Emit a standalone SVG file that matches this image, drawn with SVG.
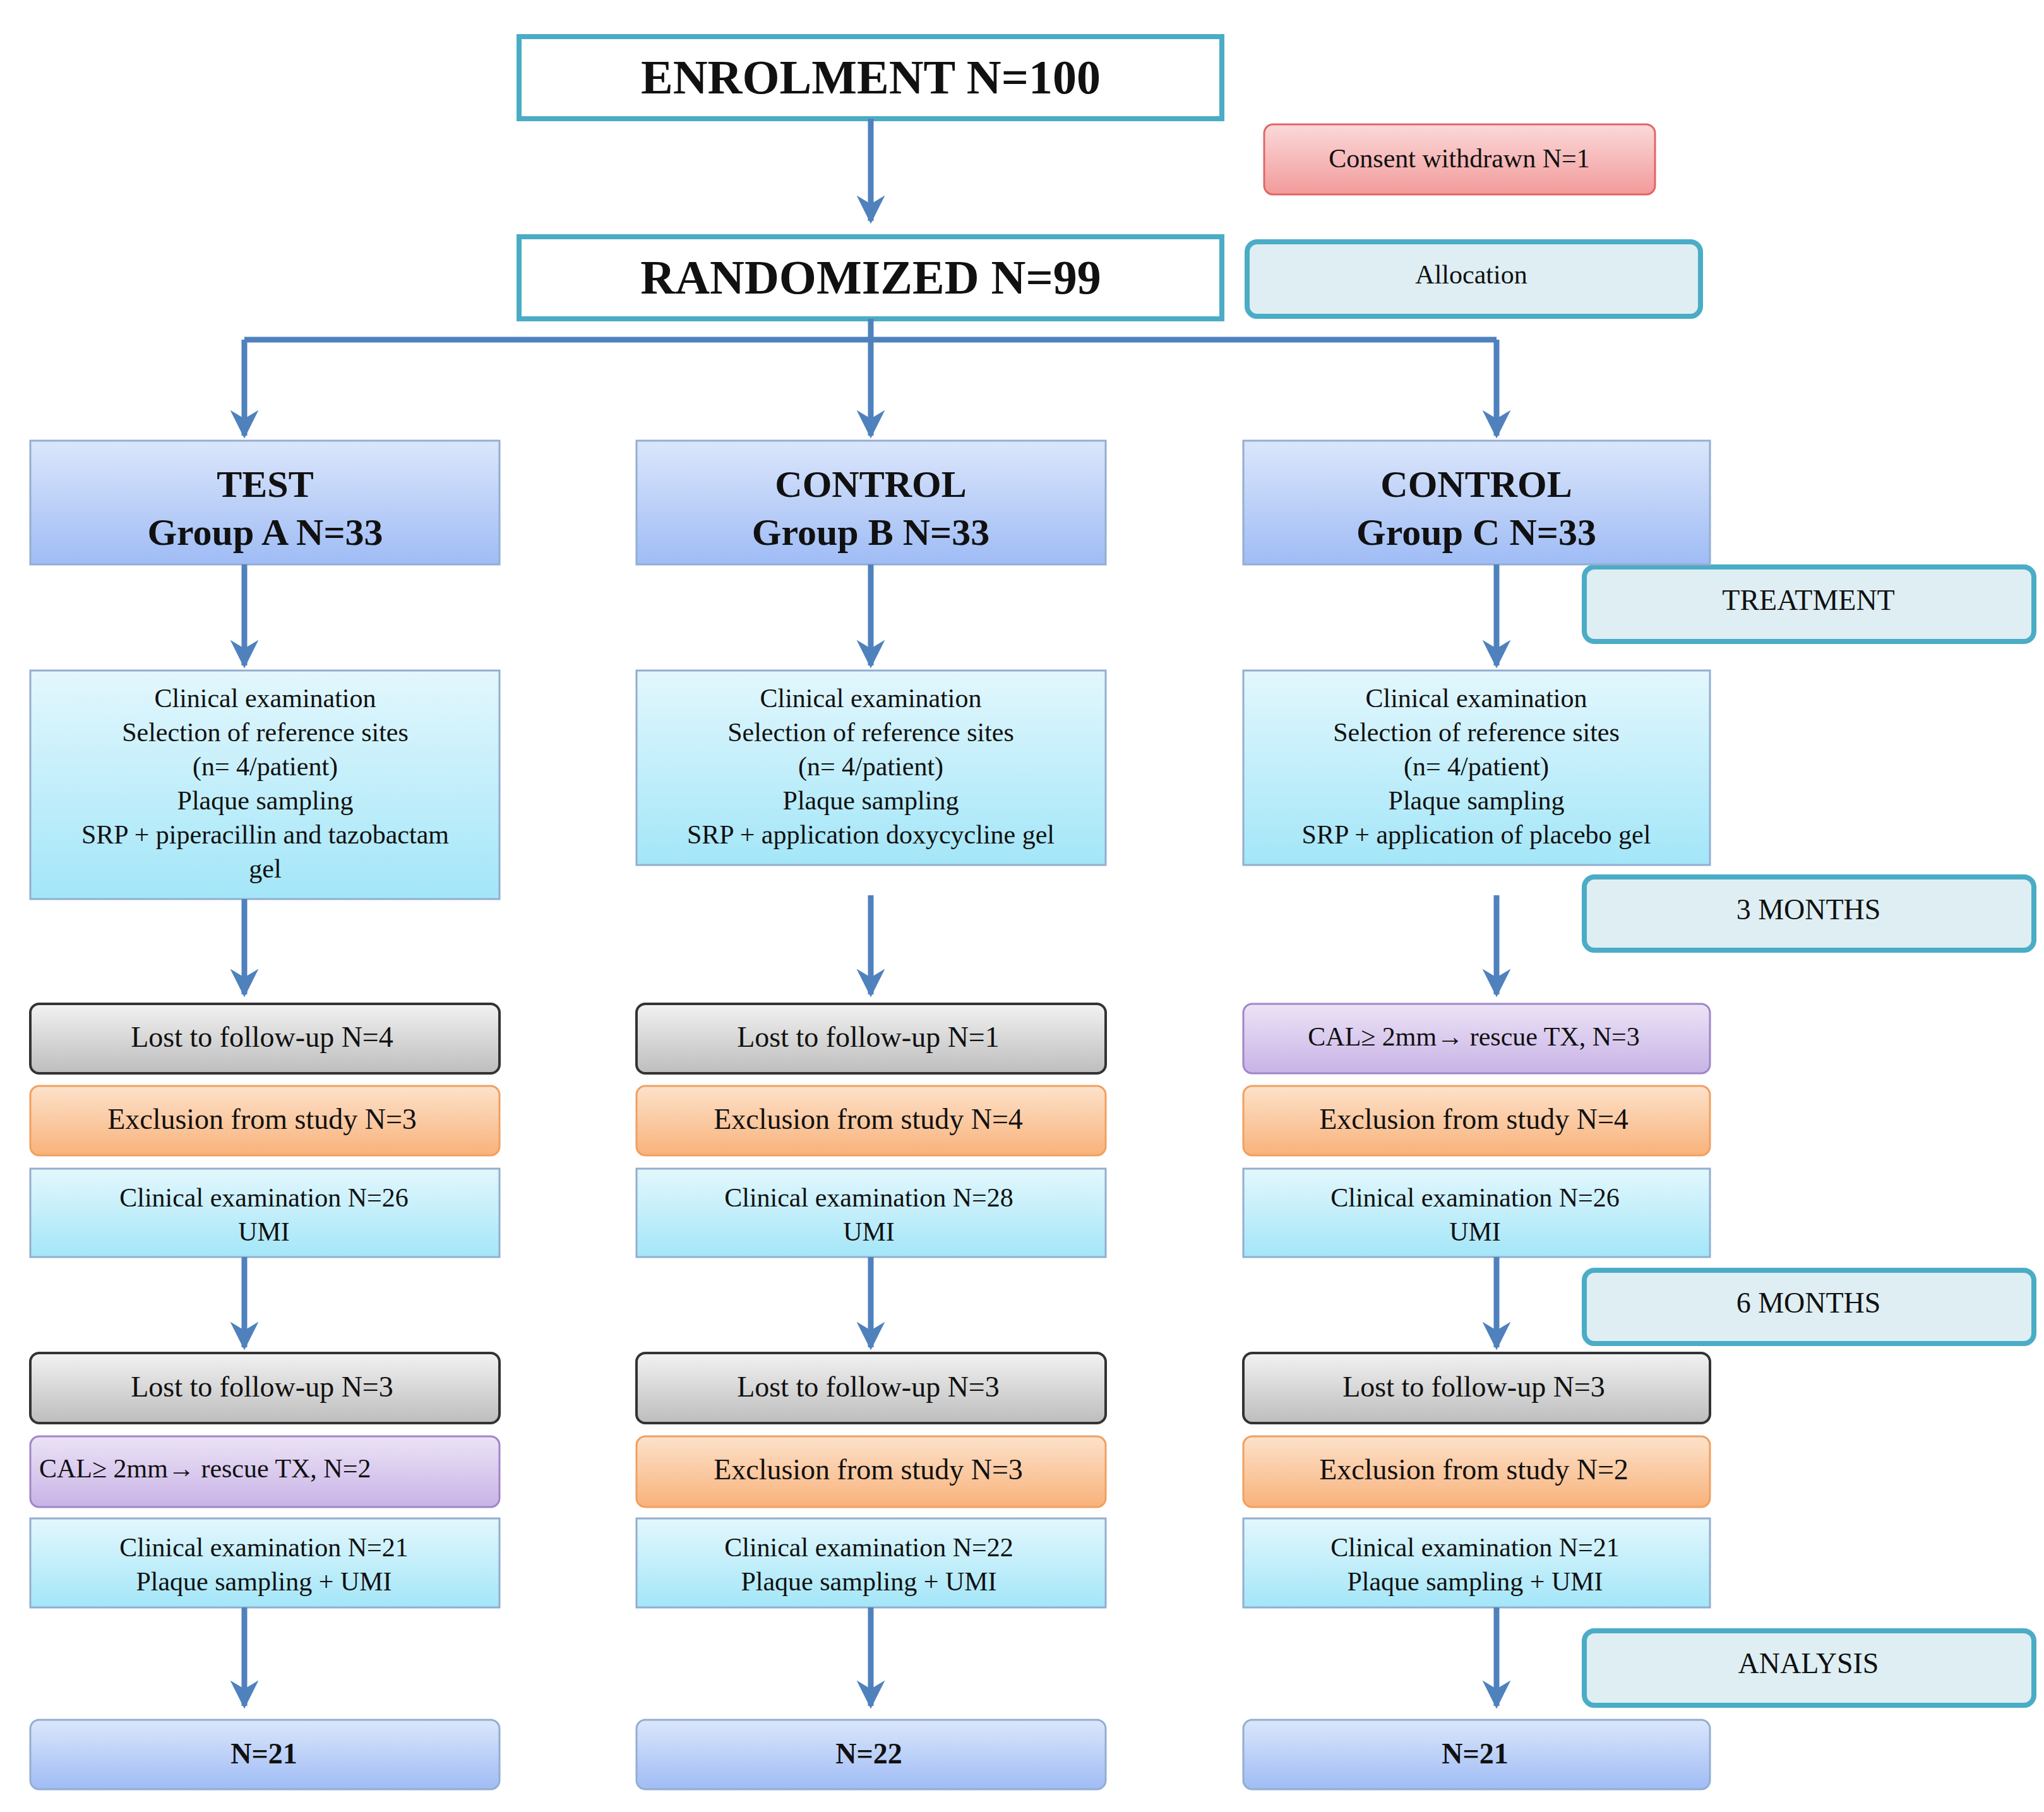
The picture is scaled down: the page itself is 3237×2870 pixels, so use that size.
<svg xmlns="http://www.w3.org/2000/svg" width="3237" height="2870" viewBox="0 0 3237 2870">
<defs>
<linearGradient id="gBlue" x1="0" y1="0" x2="0" y2="1"><stop offset="0" stop-color="#dbe6fb"/><stop offset="1" stop-color="#9fbcf5"/></linearGradient>
<linearGradient id="gCyan" x1="0" y1="0" x2="0" y2="1"><stop offset="0" stop-color="#e3f7fd"/><stop offset="1" stop-color="#a3e6f8"/></linearGradient>
<linearGradient id="gGray" x1="0" y1="0" x2="0" y2="1"><stop offset="0" stop-color="#f2f2f2"/><stop offset="1" stop-color="#bdbdbd"/></linearGradient>
<linearGradient id="gOrange" x1="0" y1="0" x2="0" y2="1"><stop offset="0" stop-color="#fde2cb"/><stop offset="1" stop-color="#f8b27a"/></linearGradient>
<linearGradient id="gPurple" x1="0" y1="0" x2="0" y2="1"><stop offset="0" stop-color="#ece3f6"/><stop offset="1" stop-color="#c8b3e6"/></linearGradient>
<linearGradient id="gRed" x1="0" y1="0" x2="0" y2="1"><stop offset="0" stop-color="#fbd9d9"/><stop offset="1" stop-color="#f29a9a"/></linearGradient>
<marker id="ah" viewBox="0 0 10 10" refX="9" refY="5" markerWidth="5" markerHeight="5" orient="auto" markerUnits="strokeWidth"><path d="M0,0 L10,5 L0,10 L3,5 Z" fill="#4f81bd"/></marker>
</defs>
<style>
text{font-family:"Liberation Serif","Times New Roman",serif;text-anchor:middle;fill:#111}
.big{font-size:76px;font-weight:bold}
.ttl{font-size:60px;font-weight:bold}
.t{font-size:42px}
.s{font-size:46px}
.b{stroke:#93aed0;stroke-width:3}
.main{fill:#fff;stroke:#4bacc6;stroke-width:8}
.side{fill:#deeef3;stroke:#4bacc6;stroke-width:8}
.dk{stroke:#333;stroke-width:4}
.c{fill:none;stroke:#4f81bd;stroke-width:9;marker-end:url(#ah)}
</style>
<rect width="3237" height="2870" fill="#fff"/>
<g id="enrol"><rect class="main" x="822" y="58" width="1113" height="130"/><text class="big" x="1379" y="148">ENROLMENT N=100</text></g>
<g id="consent"><rect x="2002" y="197" width="619" height="111" rx="14" fill="url(#gRed)" stroke="#e06666" stroke-width="3"/><text class="t" x="2311" y="265">Consent withdrawn N=1</text></g>
<g id="rand"><rect class="main" x="822" y="375" width="1113" height="130"/><text class="big" x="1379" y="465">RANDOMIZED N=99</text></g>
<g id="alloc"><rect class="side" x="1975" y="383" width="718" height="118" rx="16"/><text class="t" x="2330" y="449">Allocation</text></g>
<g id="treat"><rect class="side" x="2509" y="898" width="712" height="118" rx="16"/><text class="s" x="2864" y="966">TREATMENT</text></g>
<g id="m3"><rect class="side" x="2509" y="1389" width="712" height="116" rx="16"/><text class="s" x="2864" y="1456">3 MONTHS</text></g>
<g id="m6"><rect class="side" x="2509" y="2012" width="712" height="116" rx="16"/><text class="s" x="2864" y="2079">6 MONTHS</text></g>
<g id="anal"><rect class="side" x="2509" y="2583" width="712" height="118" rx="16"/><text class="s" x="2864" y="2650">ANALYSIS</text></g>

<g id="gA"><rect class="b" x="48" y="698" width="743" height="196" fill="url(#gBlue)"/><text class="ttl" x="420" y="787">TEST</text><text class="ttl" x="420" y="863">Group A  N=33</text></g>
<g id="gB"><rect class="b" x="1008" y="698" width="743" height="196" fill="url(#gBlue)"/><text class="ttl" x="1379" y="787">CONTROL</text><text class="ttl" x="1379" y="863">Group B  N=33</text></g>
<g id="gC"><rect class="b" x="1969" y="698" width="739" height="196" fill="url(#gBlue)"/><text class="ttl" x="2338" y="787">CONTROL</text><text class="ttl" x="2338" y="863">Group C  N=33</text></g>

<g id="cA"><rect class="b" x="48" y="1062" width="743" height="362" fill="url(#gCyan)"/><text class="t" x="420" y="1120">Clinical examination</text><text class="t" x="420" y="1174">Selection of reference sites</text><text class="t" x="420" y="1228">(n= 4/patient)</text><text class="t" x="420" y="1282">Plaque sampling</text><text class="t" x="420" y="1336">SRP + piperacillin and tazobactam</text><text class="t" x="420" y="1390">gel</text></g>
<g id="cB"><rect class="b" x="1008" y="1062" width="743" height="308" fill="url(#gCyan)"/><text class="t" x="1379" y="1120">Clinical examination</text><text class="t" x="1379" y="1174">Selection of reference sites</text><text class="t" x="1379" y="1228">(n= 4/patient)</text><text class="t" x="1379" y="1282">Plaque sampling</text><text class="t" x="1379" y="1336">SRP + application doxycycline gel</text></g>
<g id="cC"><rect class="b" x="1969" y="1062" width="739" height="308" fill="url(#gCyan)"/><text class="t" x="2338" y="1120">Clinical examination</text><text class="t" x="2338" y="1174">Selection of reference sites</text><text class="t" x="2338" y="1228">(n= 4/patient)</text><text class="t" x="2338" y="1282">Plaque sampling</text><text class="t" x="2338" y="1336">SRP + application of placebo gel</text></g>

<g id="lA1"><rect class="dk" x="48" y="1590" width="743" height="110" rx="14" fill="url(#gGray)"/><text class="s" x="415" y="1658">Lost to follow-up N=4</text></g>
<g id="lB1"><rect class="dk" x="1008" y="1590" width="743" height="110" rx="14" fill="url(#gGray)"/><text class="s" x="1375" y="1658">Lost to follow-up N=1</text></g>
<g id="rC1"><rect x="1969" y="1590" width="739" height="110" rx="14" fill="url(#gPurple)" stroke="#9f86c8" stroke-width="3"/><text class="t" x="2334" y="1656">CAL≥ 2mm→ rescue TX, N=3</text></g>

<g id="eA1"><rect x="48" y="1720" width="743" height="110" rx="14" fill="url(#gOrange)" stroke="#f0a060" stroke-width="3"/><text class="s" x="415" y="1788">Exclusion from study N=3</text></g>
<g id="eB1"><rect x="1008" y="1720" width="743" height="110" rx="14" fill="url(#gOrange)" stroke="#f0a060" stroke-width="3"/><text class="s" x="1375" y="1788">Exclusion from study N=4</text></g>
<g id="eC1"><rect x="1969" y="1720" width="739" height="110" rx="14" fill="url(#gOrange)" stroke="#f0a060" stroke-width="3"/><text class="s" x="2334" y="1788">Exclusion from study N=4</text></g>

<g id="kA1"><rect class="b" x="48" y="1851" width="743" height="140" fill="url(#gCyan)"/><text class="t" x="418" y="1911">Clinical examination N=26</text><text class="t" x="418" y="1965">UMI</text></g>
<g id="kB1"><rect class="b" x="1008" y="1851" width="743" height="140" fill="url(#gCyan)"/><text class="t" x="1376" y="1911">Clinical examination N=28</text><text class="t" x="1376" y="1965">UMI</text></g>
<g id="kC1"><rect class="b" x="1969" y="1851" width="739" height="140" fill="url(#gCyan)"/><text class="t" x="2336" y="1911">Clinical examination N=26</text><text class="t" x="2336" y="1965">UMI</text></g>

<g id="lA2"><rect class="dk" x="48" y="2143" width="743" height="111" rx="14" fill="url(#gGray)"/><text class="s" x="415" y="2212">Lost to follow-up N=3</text></g>
<g id="lB2"><rect class="dk" x="1008" y="2143" width="743" height="111" rx="14" fill="url(#gGray)"/><text class="s" x="1375" y="2212">Lost to follow-up N=3</text></g>
<g id="lC2"><rect class="dk" x="1969" y="2143" width="739" height="111" rx="14" fill="url(#gGray)"/><text class="s" x="2334" y="2212">Lost to follow-up N=3</text></g>

<g id="rA2"><rect x="48" y="2275" width="743" height="112" rx="14" fill="url(#gPurple)" stroke="#9f86c8" stroke-width="3"/><text class="t" x="62" y="2340" style="text-anchor:start">CAL≥ 2mm→ rescue TX, N=2</text></g>
<g id="eB2"><rect x="1008" y="2275" width="743" height="112" rx="14" fill="url(#gOrange)" stroke="#f0a060" stroke-width="3"/><text class="s" x="1375" y="2343">Exclusion from study N=3</text></g>
<g id="eC2"><rect x="1969" y="2275" width="739" height="112" rx="14" fill="url(#gOrange)" stroke="#f0a060" stroke-width="3"/><text class="s" x="2334" y="2343">Exclusion from study N=2</text></g>

<g id="kA2"><rect class="b" x="48" y="2405" width="743" height="141" fill="url(#gCyan)"/><text class="t" x="418" y="2465">Clinical examination N=21</text><text class="t" x="418" y="2519">Plaque sampling + UMI</text></g>
<g id="kB2"><rect class="b" x="1008" y="2405" width="743" height="141" fill="url(#gCyan)"/><text class="t" x="1376" y="2465">Clinical examination N=22</text><text class="t" x="1376" y="2519">Plaque sampling + UMI</text></g>
<g id="kC2"><rect class="b" x="1969" y="2405" width="739" height="141" fill="url(#gCyan)"/><text class="t" x="2336" y="2465">Clinical examination N=21</text><text class="t" x="2336" y="2519">Plaque sampling + UMI</text></g>

<g id="fA"><rect class="b" x="48" y="2724" width="743" height="110" rx="14" fill="url(#gBlue)"/><text class="s" x="418" y="2793" font-weight="bold">N=21</text></g>
<g id="fB"><rect class="b" x="1008" y="2724" width="743" height="110" rx="14" fill="url(#gBlue)"/><text class="s" x="1376" y="2793" font-weight="bold">N=22</text></g>
<g id="fC"><rect class="b" x="1969" y="2724" width="739" height="110" rx="14" fill="url(#gBlue)"/><text class="s" x="2336" y="2793" font-weight="bold">N=21</text></g>

<g id="connectors">
<line class="c" x1="1379" y1="188" x2="1379" y2="350"/>
<polyline fill="none" stroke="#4f81bd" stroke-width="9" points="387,538 2370,538"/>
<line class="c" x1="387" y1="538" x2="387" y2="690"/>
<line class="c" x1="1379" y1="505" x2="1379" y2="690"/>
<line class="c" x1="2370" y1="538" x2="2370" y2="690"/>
<line class="c" x1="387" y1="894" x2="387" y2="1054"/>
<line class="c" x1="1379" y1="894" x2="1379" y2="1054"/>
<line class="c" x1="2370" y1="894" x2="2370" y2="1054"/>
<line class="c" x1="387" y1="1424" x2="387" y2="1575"/>
<line class="c" x1="1379" y1="1418" x2="1379" y2="1575"/>
<line class="c" x1="2370" y1="1418" x2="2370" y2="1575"/>
<line class="c" x1="387" y1="1991" x2="387" y2="2134"/>
<line class="c" x1="1379" y1="1991" x2="1379" y2="2134"/>
<line class="c" x1="2370" y1="1991" x2="2370" y2="2134"/>
<line class="c" x1="387" y1="2546" x2="387" y2="2702"/>
<line class="c" x1="1379" y1="2546" x2="1379" y2="2702"/>
<line class="c" x1="2370" y1="2546" x2="2370" y2="2702"/>
</g>
</svg>
